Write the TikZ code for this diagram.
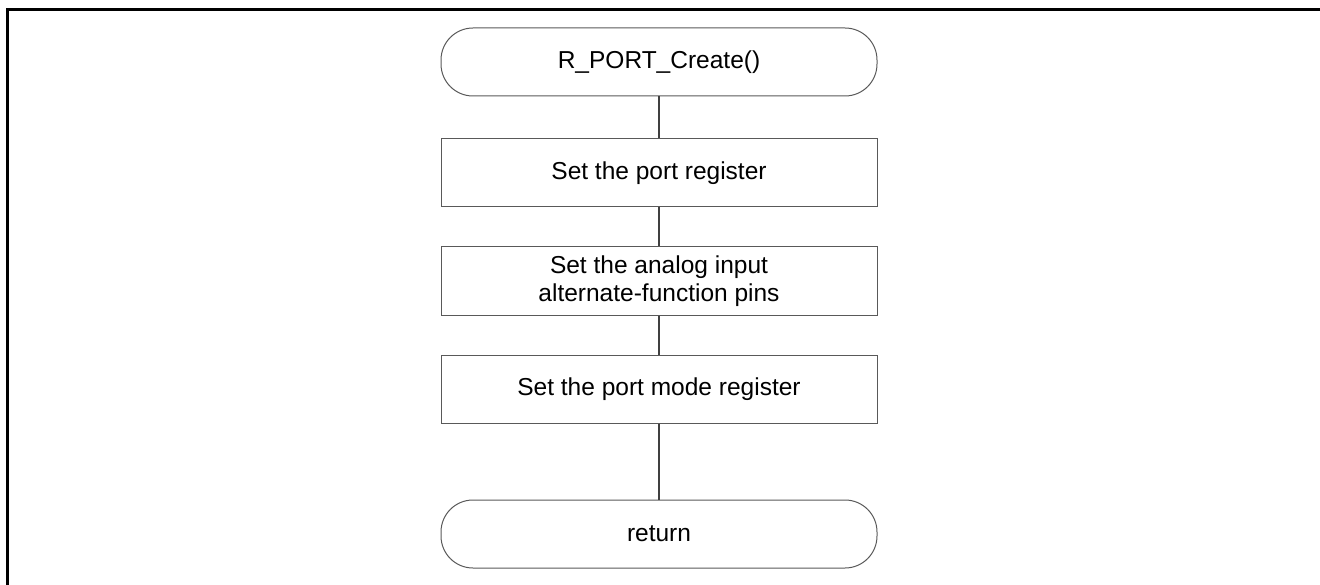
\documentclass[tikz,border=0pt]{standalone}
\usepackage{fontspec}
\setmainfont{Liberation Sans}
\begin{document}
\begin{tikzpicture}[x=1pt,y=-1pt,
  every node/.style={font=\fontsize{24.5}{28}\selectfont, text=black, align=center},
  term/.style={draw=black!65, line width=1pt, rounded corners=32pt, minimum width=436pt, minimum height=68pt, inner sep=0pt},
  proc/.style={draw=black!65, line width=1pt, minimum width=436pt, minimum height=68pt, inner sep=0pt},
  conn/.style={draw=black!75, line width=2.2pt},
  frame/.style={draw=black, line width=3pt}]
\useasboundingbox (0,0) rectangle (1320,585);
\coordinate (fb) at (7.5,585);
\coordinate (fc) at (7.5,9.5);
\coordinate (fr) at (1320,9.5);
\draw[frame] (fb) -- (fc) -- (fr);
\node[term] (start) at (659,62) {R\_PORT\_Create()};
\node[proc] (b1) at (659,173) {Set the port register};
\node[proc, minimum height=69pt] (b2) at (659,281.5) {Set the analog input\\alternate-function pins};
\node[proc] (b3) at (659,389) {Set the port mode register};
\node[term] (ret) at (659,534) {return};
\draw[conn] (start) -- (b1);
\draw[conn] (b1) -- (b2);
\draw[conn] (b2) -- (b3);
\draw[conn] (b3) -- (ret);
\end{tikzpicture}
\end{document}
